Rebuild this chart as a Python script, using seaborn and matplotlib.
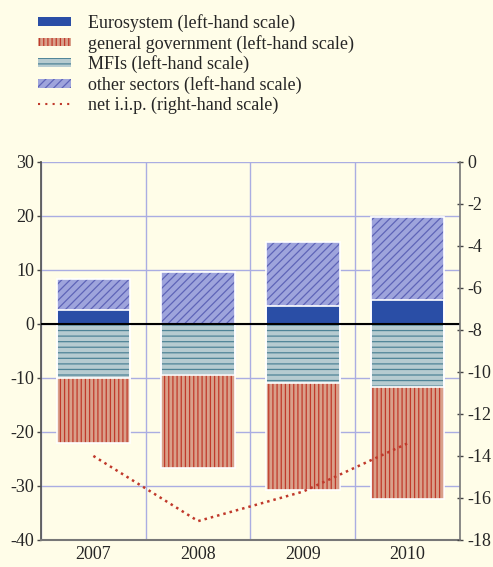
import numpy as np
import seaborn as sns
import matplotlib.pyplot as plt
from matplotlib.patches import Patch
from matplotlib.lines import Line2D

years = ['2007', '2008', '2009', '2010']
eurosystem = [2.6, 0.0, 3.3, 4.5]
other_sectors = [5.7, 9.5, 11.8, 15.3]
mfis = [-10.1, -9.5, -10.9, -11.6]
general_gov = [-11.9, -17.1, -19.9, -20.8]
net_iip = [-14.0, -17.1, -15.7, -13.4]

labels = ['Eurosystem (left-hand scale)', 'general government (left-hand scale)',
          'MFIs (left-hand scale)', 'other sectors (left-hand scale)',
          'net i.i.p. (right-hand scale)']

bg = '#fffde8'
grid_col = '#aaade2'
euro_col = '#2a4ea6'
gg_face, gg_line = '#d9a08a', '#c03a2b'
mfi_face, mfi_line = '#b6cbd0', '#4f8497'
oth_face, oth_line = '#9ea4dc', '#5e64b8'
iip_col = '#c0392b'

sns.set_theme(style='white')
plt.rcParams['font.family'] = ['Liberation Serif', 'DejaVu Serif']
plt.rcParams['axes.unicode_minus'] = False
plt.rcParams['hatch.linewidth'] = 0.9

fig = plt.figure(figsize=(4.93, 5.67), dpi=100, facecolor=bg)
ax = fig.add_axes([41 / 493, 27 / 567, 419 / 493, 378.3 / 567])
ax.set_facecolor(bg)
ax.set_axisbelow(True)

pos_total = np.array(eurosystem) + np.array(other_sectors)
neg_total = np.array(mfis) + np.array(general_gov)

# stacked bars: total first, inner segment drawn on top
layers = [
    (pos_total, oth_face, oth_line, '////'),
    (eurosystem, euro_col, euro_col, None),
    (neg_total, gg_face, gg_line, '||||'),
    (mfis, mfi_face, mfi_line, '---'),
]
for vals, face, line, hatch in layers:
    sns.barplot(x=years, y=vals, color=face, saturation=1, width=0.7,
                edgecolor=line, linewidth=0, hatch=hatch, ax=ax, zorder=2)
    sns.barplot(x=years, y=vals, color='white', fill=False, saturation=1,
                width=0.7, linewidth=1.2, ax=ax, zorder=2.5)

ax.axhline(0, color='black', lw=1.5, zorder=3)
ax.set_ylim(-40, 30)
ax.set_xlim(-0.5, len(years) - 0.5)
ax.set_yticks(np.arange(-40, 31, 10))
ax.set_xticks(np.arange(len(years)), years)
ax.set_xticks(np.arange(len(years) + 1) - 0.5, minor=True)
ax.yaxis.grid(True, color=grid_col, lw=1)
ax.xaxis.grid(True, which='minor', color=grid_col, lw=1)
ax.tick_params(axis='x', which='major', length=0, labelsize=13, pad=4)
ax.tick_params(axis='x', which='minor', length=5, width=1.2, color='black', direction='out')
ax.tick_params(axis='y', length=3, width=1, color='#444444', labelsize=13, pad=2, direction='out')
for s in ['top', 'right']:
    ax.spines[s].set_visible(False)
ax.spines['left'].set_color('#555555')
ax.spines['bottom'].set_color('#777777')
ax.spines['bottom'].set_linewidth(1.5)
ax.set_xlabel('')
ax.set_ylabel('')

ax2 = ax.twinx()
sns.lineplot(x=np.arange(len(years)), y=net_iip, ax=ax2, color=iip_col,
             linestyle=(0, (1, 1.6)), lw=1.8)
ax2.set_xlim(-0.5, len(years) - 0.5)
ax2.set_ylim(-18, 0)
ax2.set_yticks(np.arange(-18, 1, 2))
ax2.tick_params(axis='y', length=5, width=1, color='#444444', direction='inout',
                labelsize=13, pad=3)
for s in ['top', 'left', 'bottom']:
    ax2.spines[s].set_visible(False)
ax2.spines['right'].set_color('#777777')
ax2.spines['right'].set_linewidth(1.2)
ax2.set_ylabel('')

handles = [
    Patch(facecolor=euro_col, edgecolor=euro_col, lw=0),
    Patch(facecolor=gg_face, edgecolor=gg_line, hatch='||||', lw=0),
    Patch(facecolor=mfi_face, edgecolor=mfi_line, hatch='---', lw=0),
    Patch(facecolor=oth_face, edgecolor=oth_line, hatch='////', lw=0),
    Line2D([0], [0], color=iip_col, linestyle=(0, (1, 2.5)), lw=1.5),
]
fig.legend(handles, labels, loc='upper left', bbox_to_anchor=(38 / 493, 1 - 14 / 567),
           frameon=False, fontsize=13, handlelength=1.85, handleheight=0.35,
           labelspacing=0.15, handletextpad=0.9, borderaxespad=0, borderpad=0)

fig.savefig('out.png', dpi=100, facecolor=bg)
